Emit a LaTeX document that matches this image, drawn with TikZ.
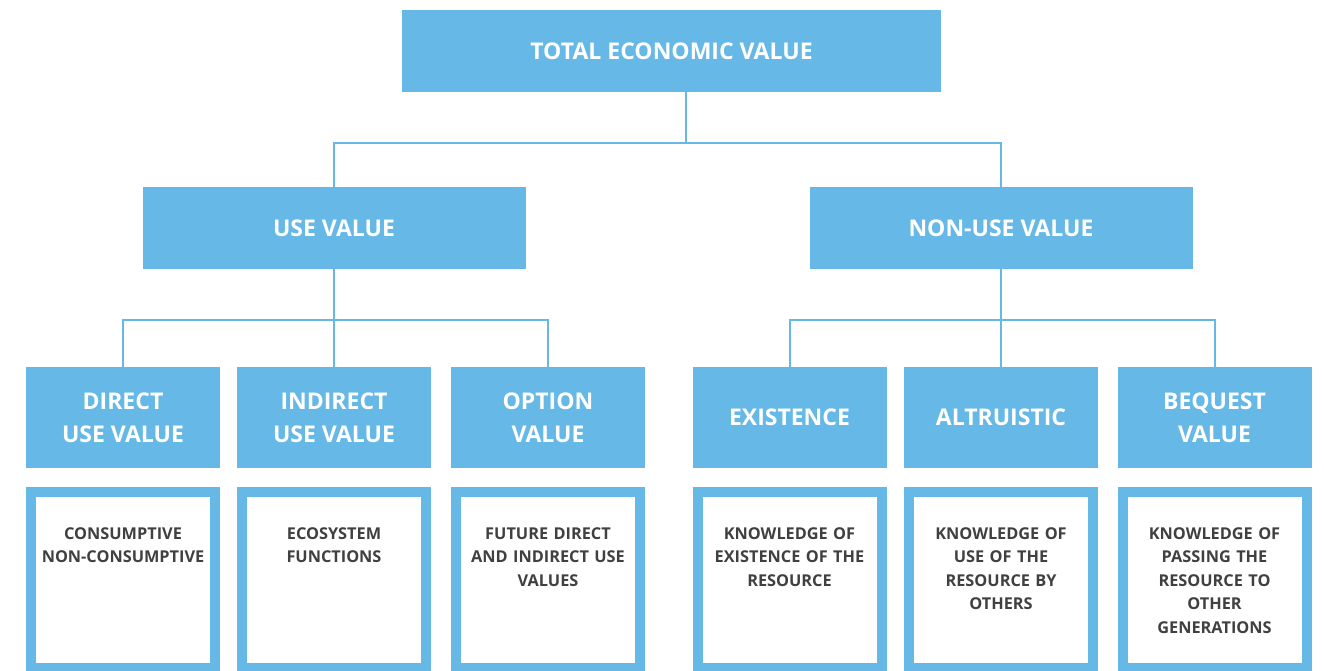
\documentclass[tikz,border=0pt]{standalone}
\usepackage{fontspec}
\setmainfont{Open Sans}
\definecolor{tevblue}{RGB}{102,184,230}
\definecolor{txtgray}{RGB}{64,64,64}
\begin{document}
\begin{tikzpicture}[x=1pt,y=-1pt,
  hbox/.style={fill=tevblue,draw=none,text=white,font=\bfseries\fontsize{23}{33}\selectfont,align=center,inner sep=0pt},
  dbox/.style={draw=tevblue,line width=10pt,fill=white,minimum width=184pt,minimum height=176pt,inner sep=0pt},
  dtext/.style={anchor=north,text=txtgray,font=\bfseries\fontsize{16.3}{23.5}\selectfont,align=center,text width=184pt,inner sep=0pt},
  conn/.style={draw=tevblue,line width=2pt}]
\useasboundingbox (0,0) rectangle (1324,670);
\fill[white] (0,0) rectangle (1324,670);
% top
\node[hbox,minimum width=539pt,minimum height=82pt] (tev) at (671.5,51) {TOTAL ECONOMIC VALUE};
% level 2
\node[hbox,minimum width=383pt,minimum height=82pt] (use) at (334,228) {USE VALUE};
\node[hbox,minimum width=383pt,minimum height=82pt] (nonuse) at (1001,228) {NON-USE VALUE};
% level 3
\node[hbox,minimum width=194pt,minimum height=101pt] (direct) at (123,417.5) {DIRECT\\USE VALUE};
\node[hbox,minimum width=194pt,minimum height=101pt] (indirect) at (334,417.5) {INDIRECT\\USE VALUE};
\node[hbox,minimum width=194pt,minimum height=101pt] (option) at (548,417.5) {OPTION\\VALUE};
\node[hbox,minimum width=194pt,minimum height=101pt] (exist) at (789.5,417.5) {EXISTENCE};
\node[hbox,minimum width=194pt,minimum height=101pt] (altru) at (1001,417.5) {ALTRUISTIC};
\node[hbox,minimum width=194pt,minimum height=101pt] (beq) at (1214.5,417.5) {BEQUEST\\VALUE};
% level 4
\node[dbox] (d1) at (123,580) {};
\node[dbox] (d2) at (334,580) {};
\node[dbox] (d3) at (548,580) {};
\node[dbox] (d4) at (789.5,580) {};
\node[dbox] (d5) at (1001,580) {};
\node[dbox] (d6) at (1214.5,580) {};
\node[dtext] (t1) at (123,527) {CONSUMPTIVE\\NON-CONSUMPTIVE};
\node[dtext] (t2) at (334,527) {ECOSYSTEM\\FUNCTIONS};
\node[dtext] (t3) at (548,527) {FUTURE DIRECT\\AND INDIRECT USE\\VALUES};
\node[dtext] (t4) at (789.5,527) {KNOWLEDGE OF\\EXISTENCE OF THE\\RESOURCE};
\node[dtext] (t5) at (1001,527) {KNOWLEDGE OF\\USE OF THE\\RESOURCE BY\\OTHERS};
\node[dtext] (t6) at (1214.5,527) {KNOWLEDGE OF\\PASSING THE\\RESOURCE TO\\OTHER\\GENERATIONS};
% connectors
\coordinate (j1) at (686,143);
\coordinate (j2) at (334,320);
\coordinate (j3) at (1001,320);
\draw[conn] (tev.south -| j1) -- (j1);
\draw[conn] (use.north) |- (j1) -| (nonuse.north);
\draw[conn] (use.south) -- (indirect.north);
\draw[conn] (direct.north) |- (j2) -| (option.north);
\draw[conn] (nonuse.south) -- (altru.north);
\draw[conn] (exist.north) |- (j3) -| (beq.north);
\end{tikzpicture}
\end{document}
